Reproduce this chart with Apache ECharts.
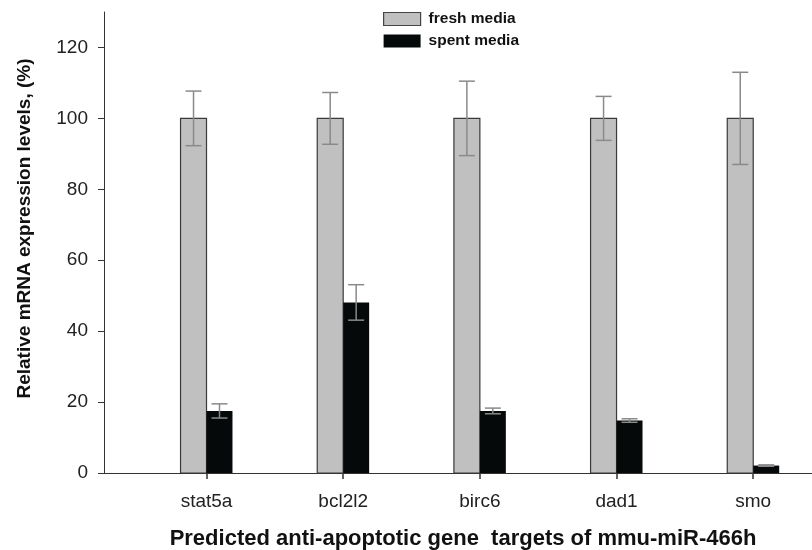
<!DOCTYPE html>
<html>
<head>
<meta charset="utf-8">
<style>
  html, body { margin: 0; padding: 0; background: #fff; }
  #chart { width: 812px; height: 550px; }
</style>
<script src="https://cdn.jsdelivr.net/npm/echarts@6/dist/echarts.min.js"></script>
</head>
<body>
<div id="chart"></div>
<script>
// Gene targets and relative expression (%) with error bars
const categories = ['stat5a', 'bcl2l2', 'birc6', 'dad1', 'smo'];
const freshValues = [100, 100, 100, 100, 100];
const freshErrors = [7.7, 7.3, 10.5, 6.2, 13.0];
const spentValues = [17.5, 48.1, 17.5, 14.8, 2.1];
const spentErrors = [2.0, 5.0, 0.8, 0.5, 0.2];
const yTicks = [0, 20, 40, 60, 80, 100, 120];
const xTicks = [0, 1, 2, 3, 4];

const BAR_W = 0.19;          // bar width in category units
const FONT = 'Liberation Sans, Arial, sans-serif';

function barRenderer(offset, fill, stroke) {
  return function (params, api) {
    const i = api.value(0), v = api.value(1);
    const p0 = api.coord([i + offset, v]);
    const p1 = api.coord([i + offset + BAR_W, 0]);
    return {
      type: 'rect',
      shape: { x: p0[0], y: p0[1], width: p1[0] - p0[0], height: p1[1] - p0[1] },
      style: { fill: fill, stroke: stroke, lineWidth: stroke ? 1.2 : 0 }
    };
  };
}

function errorRenderer(offset) {
  return function (params, api) {
    const i = api.value(0), v = api.value(1), e = api.value(2);
    const hi = api.coord([i + offset, v + e]);
    const lo = api.coord([i + offset, v - e]);
    const cap = 8;
    const st = { stroke: '#8a8a8a', lineWidth: 1.5 };
    return {
      type: 'group',
      children: [
        { type: 'line', shape: { x1: hi[0], y1: hi[1], x2: lo[0], y2: lo[1] }, style: st },
        { type: 'line', shape: { x1: hi[0] - cap, y1: hi[1], x2: hi[0] + cap, y2: hi[1] }, style: st },
        { type: 'line', shape: { x1: lo[0] - cap, y1: lo[1], x2: lo[0] + cap, y2: lo[1] }, style: st }
      ]
    };
  };
}

const freshData = categories.map((c, i) => [i, freshValues[i], freshErrors[i]]);
const spentData = categories.map((c, i) => [i, spentValues[i], spentErrors[i]]);

const chart = echarts.init(document.getElementById('chart'));
chart.setOption({
  animation: false,
  backgroundColor: '#ffffff',
  grid: { left: 104, right: 0, top: 12, bottom: 77, containLabel: false, outerBoundsMode: 'none' },
  legend: {
    orient: 'vertical',
    left: 378,
    top: 6,
    itemWidth: 37,
    itemHeight: 13,
    itemGap: 6,
    textStyle: { fontFamily: FONT, fontWeight: 'bold', fontSize: 15.5, color: '#111', padding: [0, 0, 0, 3] },
    data: [
      { name: 'fresh media', icon: 'rect', itemStyle: { color: '#c0c0c0', borderColor: '#444', borderWidth: 1.2 } },
      { name: 'spent media', icon: 'rect', itemStyle: { color: '#060909', borderWidth: 0 } }
    ]
  },
  xAxis: {
    type: 'value',
    min: -0.75,
    max: 4.43,
    name: 'Predicted anti-apoptotic gene  targets of mmu-miR-466h',
    nameLocation: 'middle',
    nameGap: 55,
    nameTextStyle: { fontFamily: FONT, fontWeight: 'bold', fontSize: 22, color: '#111', padding: [0, 0, 0, 10] },
    splitLine: { show: false },
    axisLine: { show: true, onZero: false, lineStyle: { color: '#333', width: 1 } },
    axisTick: { show: true, inside: false, customValues: xTicks, length: 6, lineStyle: { color: '#333', width: 1.5 } },
    axisLabel: {
      customValues: xTicks,
      formatter: v => categories[v],
      margin: 19,
      fontFamily: FONT,
      fontSize: 19,
      color: '#222'
    }
  },
  yAxis: {
    type: 'value',
    min: 0,
    max: 130,
    name: 'Relative mRNA expression levels, (%)',
    nameLocation: 'middle',
    nameGap: 70,
    nameTextStyle: { fontFamily: FONT, fontWeight: 'bold', fontSize: 19, color: '#111', padding: [0, 0, 0, 28] },
    splitLine: { show: false },
    axisLine: { show: true, onZero: false, lineStyle: { color: '#333', width: 1 } },
    axisTick: { show: true, customValues: yTicks, length: 6, lineStyle: { color: '#333' } },
    axisLabel: { customValues: yTicks, margin: 16, fontFamily: FONT, fontSize: 19, color: '#222' }
  },
  series: [
    {
      name: 'fresh media',
      type: 'custom',
      itemStyle: { color: '#c0c0c0' },
      renderItem: barRenderer(-BAR_W, '#c0c0c0', '#3a3a3a'),
      encode: { x: 0, y: 1 },
      data: freshData,
      z: 2
    },
    {
      name: 'spent media',
      type: 'custom',
      itemStyle: { color: '#060909' },
      renderItem: barRenderer(0, '#060909', null),
      encode: { x: 0, y: 1 },
      data: spentData,
      z: 2
    },
    {
      type: 'custom',
      renderItem: errorRenderer(-BAR_W / 2),
      encode: { x: 0, y: 1 },
      data: freshData,
      z: 3
    },
    {
      type: 'custom',
      renderItem: errorRenderer(BAR_W / 2),
      encode: { x: 0, y: 1 },
      data: spentData,
      z: 3
    }
  ]
});
</script>
</body>
</html>
